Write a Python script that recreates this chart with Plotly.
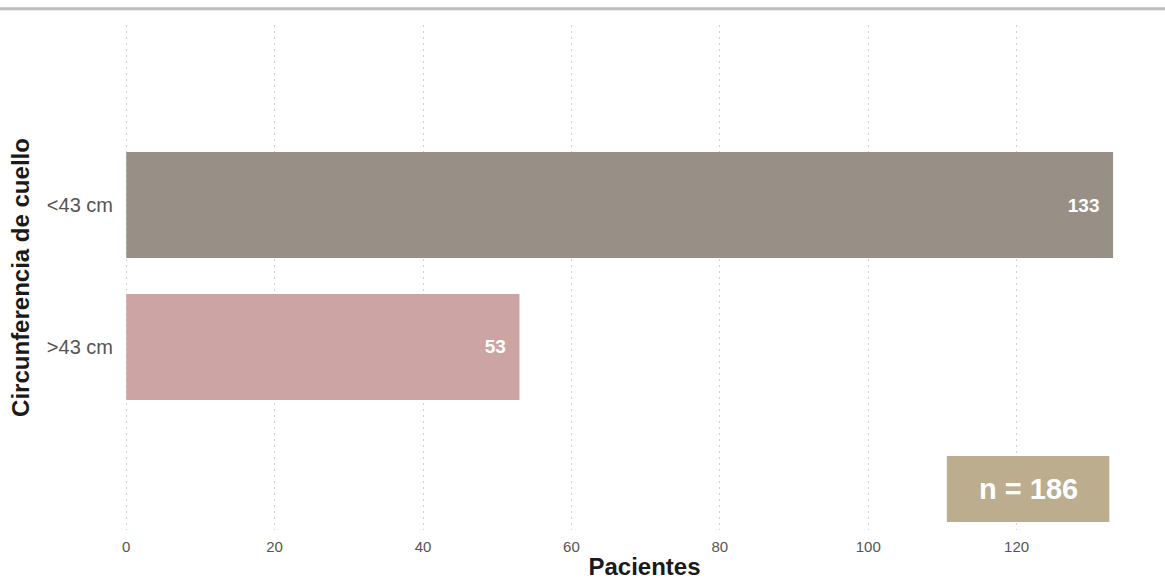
import plotly.graph_objects as go

# Neck circumference groups and patient counts
categories = ["<43 cm", ">43 cm"]
patients = [133, 53]
bar_colors = ["#989087", "#CDA4A4"]
total_n = 186
x_ticks = [0, 20, 40, 60, 80, 100, 120]

fig = go.Figure()
fig.add_trace(go.Bar(
    x=patients,
    y=categories,
    orientation="h",
    marker=dict(color=bar_colors, line=dict(width=0)),
    text=[f"{v}&nbsp;&nbsp;" for v in patients],
    textposition="inside",
    insidetextanchor="end",
    textfont=dict(family="Liberation Sans, Arial", size=19, color="white", weight="bold"),
    hoverinfo="x+y",
))

# Sample size badge in the lower right of the plot
fig.add_shape(type="rect", xref="x", yref="y",
              x0=110.6, x1=132.5, y0=1.768, y1=2.232,
              fillcolor="#BBAD8D", line=dict(width=0), layer="above")
fig.add_annotation(x=121.55, y=2.0, xref="x", yref="y",
                   text=f"n = {total_n}", showarrow=False,
                   font=dict(family="Liberation Sans, Arial", size=29, color="white", weight="bold"))

# Rule under the page heading
fig.add_shape(type="line", xref="paper", yref="paper",
              x0=-0.2, x1=1.2, y0=1.032, y1=1.032,
              line=dict(color="#BDBDBD", width=3))

fig.update_layout(
    width=1165, height=580,
    margin=dict(l=124, r=0, t=25, b=50),
    plot_bgcolor="white", paper_bgcolor="white",
    bargap=0.254,
    showlegend=False,
    font=dict(family="Liberation Sans, Arial"),
    xaxis=dict(
        range=[-0.3, 140],
        tickvals=x_ticks,
        showgrid=True, gridcolor="#D2D2D2", griddash="2px,4px", gridwidth=1,
        zeroline=False, showline=False, ticks="",
        tickfont=dict(size=15, color="#555555"),
        ticklabelstandoff=6,
        title=dict(text="Pacientes", font=dict(size=24, color="#1a1a1a", weight="bold"), standoff=6),
    ),
    yaxis=dict(
        categoryorder="array", categoryarray=categories,
        range=[2.289, -1.268],
        showgrid=False, zeroline=False, showline=False, ticks="",
        tickfont=dict(size=20, color="#555555"),
        ticklabelstandoff=10,
        title=dict(text="Circunferencia de cuello", font=dict(size=24, color="#1a1a1a", weight="bold"), standoff=10),
    ),
)

fig.write_html("out.html")
